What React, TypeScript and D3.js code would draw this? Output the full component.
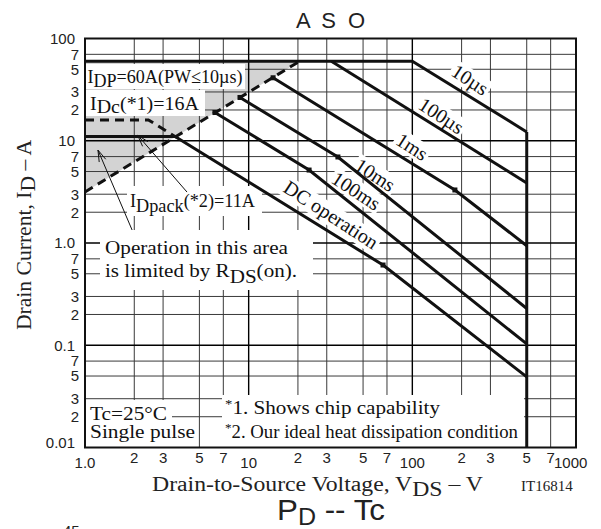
import React, { useRef, useEffect } from "react";
import * as d3 from "d3";

const width = 601;
const height = 529;
const plotLeft = 85;
const plotRight = 576;
const plotTop = 38.5;
const plotBottom = 447.5;

const serif = "'Liberation Serif', 'Times New Roman', serif";
const sans = "'Liberation Sans', Arial, sans-serif";

// axes
const xDecades = [1, 10, 100];
const yDecades = [0.01, 0.1, 1, 10];
const minorSteps = [2, 3, 5, 7];
const xMajors = [10, 100];
const yMajors = [0.1, 1, 10];
const xMajorTicks = [1, 10, 100];
const xMajorLabels = ["1.0", "10", "100"];
const yMajorTicks = [0.01, 0.1, 1, 10, 100];
const yMajorLabels = ["0.01", "0.1", "1.0", "10", "100"];

// limits
const idpCurrent = 60;   // A pulsed
const idcCurrent = 16;   // A chip
const idpackCurrent = 11; // A package
const vdssMax = 500;     // V

// R_DS(on) limit line
const rdsV = [1, 20.5];
const rdsA = [3.16, 60];

// SOA curves: start -> knee -> end at 500 V
const curveNames = ["10µs", "100µs", "1ms", "10ms", "100ms", "DC operation"];
const curveStartV = [100, 32, 14.1, 8.85, 6.22, 3.55];
const curveStartA = [60, 60, 41.3, 26.5, 18.9, 11];
const curveKneeV = [0, 0, 182, 35.1, 23.4, 66.2];
const curveKneeA = [0, 0, 3.3, 6.94, 5.17, 0.609];
const curveEndA = [12.2, 3.86, 0.94, 0.229, 0.103, 0.049];
const startMarked = [false, false, true, true, true, false];

// chip capability (DC, dashed)
const idcDashV = [1, 2.44, 3.55];
const idcDashA = [idcCurrent, idcCurrent, idpackCurrent];

// curve label centres (V, A)
const labelV = [225, 150, 99.5, 59.1, 45.3, 31.8];
const labelA = [39.3, 17.5, 8.7, 4.62, 3.22, 1.88];

export default function App() {
  const svgRef = useRef<SVGSVGElement>(null);

  useEffect(() => {
    if (!svgRef.current) return;
    const svg = d3.select(svgRef.current);
    svg.selectAll("*").remove();

    const x = d3.scaleLog().domain([1, 1000]).range([plotLeft, plotRight]);
    const y = d3.scaleLog().domain([0.01, 100]).range([plotBottom, plotTop]);
    const line = d3.line<[number, number]>().x(d => x(d[0])).y(d => y(d[1]));

    svg.append("rect").attr("width", width).attr("height", height).attr("fill", "#fff");

    // grey R_DS(on) limited region
    svg.append("path")
      .attr("d", line([[1, idpCurrent], [rdsV[1], rdsA[1]], [rdsV[0], rdsA[0]]]) + "Z")
      .attr("fill", "#d3d3d3");

    // grid
    const grid = svg.append("g");
    const xMinor = xDecades.flatMap(d => minorSteps.map(m => d * m));
    const yMinor = yDecades.flatMap(d => minorSteps.map(m => d * m));
    grid.selectAll(".vx").data(xMinor).join("line")
      .attr("x1", d => x(d)).attr("x2", d => x(d))
      .attr("y1", plotTop).attr("y2", plotBottom)
      .attr("stroke", "#3a3a3a").attr("stroke-width", 1);
    grid.selectAll(".hy").data(yMinor).join("line")
      .attr("y1", d => y(d)).attr("y2", d => y(d))
      .attr("x1", plotLeft).attr("x2", plotRight)
      .attr("stroke", "#3a3a3a").attr("stroke-width", 1);
    grid.selectAll(".vX").data(xMajors).join("line")
      .attr("x1", d => x(d)).attr("x2", d => x(d))
      .attr("y1", plotTop).attr("y2", plotBottom)
      .attr("stroke", "#000").attr("stroke-width", 1.4);
    grid.selectAll(".hY").data(yMajors).join("line")
      .attr("y1", d => y(d)).attr("y2", d => y(d))
      .attr("x1", plotLeft).attr("x2", plotRight)
      .attr("stroke", "#000").attr("stroke-width", 1.4);

    // white boxes behind the notes
    const bgLayer = svg.append("g");
    const maskBoxes = [
      [85, 64, 160, 25],
      [85, 90, 120, 26],
      [127, 186, 135, 30],
      [100, 230, 213, 60],
      [85, 400, 87, 47],
      [85, 422, 113, 25],
      [222, 395, 302, 52],
    ];
    bgLayer.selectAll("rect").data(maskBoxes).join("rect")
      .attr("x", d => d[0]).attr("y", d => d[1])
      .attr("width", d => d[2]).attr("height", d => d[3])
      .attr("fill", "#fff");

    const curveLayer = svg.append("g").attr("fill", "none").attr("stroke", "#111")
      .attr("stroke-width", 3).attr("stroke-linejoin", "miter");
    const textLayer = svg.append("g").attr("fill", "#111");

    // curve labels with white backing
    const angle = 33;
    curveNames.forEach((name, i) => {
      const tr = `translate(${x(labelV[i])},${y(labelA[i])}) rotate(${angle})`;
      const t = textLayer.append("text")
        .attr("transform", tr)
        .attr("text-anchor", "middle")
        .attr("dy", "0.33em")
        .attr("font-family", serif)
        .attr("font-size", 20)
        .text(name);
      const bb = (t.node() as SVGTextElement).getBBox();
      bgLayer.append("rect")
        .attr("transform", tr)
        .attr("x", bb.x - 2).attr("y", bb.y + 1)
        .attr("width", bb.width + 4).attr("height", bb.height - 2)
        .attr("fill", "#fff");
    });

    // I_DP line
    curveLayer.append("path").attr("d", line([[1, idpCurrent], [curveStartV[0], idpCurrent]]));
    // package limit
    curveLayer.append("path").attr("d", line([[1, idpackCurrent], [curveStartV[5], idpackCurrent]]));
    // SOA curves
    curveNames.forEach((_, i) => {
      const pts: [number, number][] = [[curveStartV[i], curveStartA[i]]];
      if (curveKneeV[i]) pts.push([curveKneeV[i], curveKneeA[i]]);
      pts.push([vdssMax, curveEndA[i]]);
      curveLayer.append("path").attr("d", line(pts));
    });
    // V_DSS
    curveLayer.append("path").attr("d", line([[vdssMax, curveEndA[0]], [vdssMax, 0.01]]));

    // dashed limits
    curveLayer.append("path")
      .attr("d", line([[rdsV[0], rdsA[0]], [rdsV[1], rdsA[1]]]))
      .attr("stroke-dasharray", "9,6");
    curveLayer.append("path")
      .attr("d", line(idcDashV.map((v, i) => [v, idcDashA[i]] as [number, number])))
      .attr("stroke-dasharray", "9,6");

    // markers
    const marks: [number, number][] = [];
    curveNames.forEach((_, i) => {
      if (startMarked[i]) marks.push([curveStartV[i], curveStartA[i]]);
      if (curveKneeV[i]) marks.push([curveKneeV[i], curveKneeA[i]]);
    });
    svg.append("g").selectAll("rect").data(marks).join("rect")
      .attr("x", d => x(d[0]) - 2.5).attr("y", d => y(d[1]) - 2.5)
      .attr("width", 5).attr("height", 5).attr("fill", "#111");

    // arrows
    const arrows = [
      [[1.94, 1.34], [1.2, 8.1]],
      [[4.2, 3.15], [2.1, 11.3]],
    ];
    const arrowG = svg.append("g").attr("stroke", "#111").attr("stroke-width", 1).attr("fill", "none");
    arrows.forEach(([a, b]) => {
      const x1 = x(a[0]), y1 = y(a[1]), x2 = x(b[0]), y2 = y(b[1]);
      const th = Math.atan2(y2 - y1, x2 - x1);
      arrowG.append("line").attr("x1", x1).attr("y1", y1).attr("x2", x2).attr("y2", y2);
      [-0.3, 0.3].forEach(o => {
        arrowG.append("line").attr("x1", x2).attr("y1", y2)
          .attr("x2", x2 - 12 * Math.cos(th + o)).attr("y2", y2 - 12 * Math.sin(th + o));
      });
    });

    // rich text helper
    const rich = (px: number, py: number, parts: [string, number, number?][], size: number, len?: number, family = serif) => {
      const t = textLayer.append("text").attr("x", px).attr("y", py)
        .attr("font-family", family).attr("font-size", size);
      let cur = 0;
      parts.forEach(([s, off, sc]) => {
        const ts = t.append("tspan").attr("dy", off - cur).text(s);
        if (sc) ts.attr("font-size", size * sc);
        cur = off;
      });
      if (len) t.attr("textLength", len).attr("lengthAdjust", "spacingAndGlyphs");
      return t;
    };

    rich(87.5, 83, [["I", 0], ["DP", 4], ["=60A(PW≤10µs)", 0]], 19, 155);
    rich(90, 110, [["I", 0], ["Dc", 3], ["(*1)=16A", 0]], 19, 109);
    rich(130, 207, [["I", 0], ["Dpack", 5], ["(*2)=11A", 0]], 19, 125);
    rich(105, 254, [["Operation in this area", 0]], 19, 183);
    rich(105, 277, [["is limited by R", 0], ["DS", 6], ["(on).", 0]], 19, 192);
    rich(90, 420, [["Tc=25°C", 0]], 19, 77);
    rich(90, 438, [["Single pulse", 0]], 19, 105);
    rich(225, 414, [["*", -6, 0.7], ["1. Shows chip capability", 0]], 19, 215);
    rich(225, 438, [["*", -6, 0.7], ["2. Our ideal heat dissipation condition", 0]], 19, 293);

    // plot border
    svg.append("rect")
      .attr("x", plotLeft).attr("y", plotTop)
      .attr("width", plotRight - plotLeft).attr("height", plotBottom - plotTop)
      .attr("fill", "none").attr("stroke", "#111").attr("stroke-width", 2);

    // tick labels
    const tick = svg.append("g").attr("font-family", sans).attr("font-size", 15).attr("fill", "#222");
    tick.selectAll(".ym").data(yMajorTicks).join("text")
      .attr("x", 75).attr("y", d => y(d)).attr("dy", (d) => d === 0.01 ? "0.05em" : "0.36em")
      .attr("text-anchor", "end").text((_, i) => yMajorLabels[i]);
    tick.selectAll(".yn").data(yMinor).join("text")
      .attr("x", 79).attr("y", d => y(d)).attr("dy", "0.36em")
      .attr("text-anchor", "end").text(d => String(Math.round(d / Math.pow(10, Math.floor(Math.log10(d) + 1e-9)))));
    tick.selectAll(".xm").data(xMajorTicks).join("text")
      .attr("x", d => x(d)).attr("y", 468)
      .attr("text-anchor", "middle").text((_, i) => xMajorLabels[i]);
    tick.append("text").attr("x", x(1000) - 22).attr("y", 468).text("1000");
    tick.selectAll(".xn").data(xMinor).join("text")
      .attr("x", d => x(d)).attr("y", 463)
      .attr("text-anchor", "middle").text(d => String(Math.round(d / Math.pow(10, Math.floor(Math.log10(d) + 1e-9)))));

    // titles
    svg.append("text").attr("x", (plotLeft + plotRight) / 2).attr("y", 28)
      .attr("text-anchor", "middle").attr("font-family", sans).attr("font-size", 22)
      .attr("textLength", 69).attr("lengthAdjust", "spacing").attr("fill", "#222")
      .text("A S O");

    const xl = svg.append("text").attr("x", 152).attr("y", 491)
      .attr("font-family", serif).attr("font-size", 20).attr("fill", "#222")
      .attr("textLength", 331).attr("lengthAdjust", "spacingAndGlyphs");
    xl.append("tspan").text("Drain-to-Source Voltage, V");
    xl.append("tspan").attr("dy", 5).text("DS");
    xl.append("tspan").attr("dy", -5).text("  –  V");

    const yl = svg.append("text").attr("transform", "translate(31,235) rotate(-90)")
      .attr("text-anchor", "middle")
      .attr("font-family", serif).attr("font-size", 22).attr("fill", "#222")
      .attr("textLength", 190).attr("lengthAdjust", "spacingAndGlyphs");
    yl.append("tspan").text("Drain Current, I");
    yl.append("tspan").attr("dy", 4).text("D");
    yl.append("tspan").attr("dy", -4).text("  –  A");

    svg.append("text").attr("x", 521).attr("y", 491)
      .attr("font-family", serif).attr("font-size", 15).attr("fill", "#222").text("IT16814");

    const pd = svg.append("text").attr("x", 277).attr("y", 520)
      .attr("font-family", sans).attr("font-size", 30).attr("fill", "#222")
      .attr("textLength", 108).attr("lengthAdjust", "spacingAndGlyphs");
    pd.append("tspan").text("P");
    pd.append("tspan").attr("dy", 5).attr("font-size", 24).text("D");
    pd.append("tspan").attr("dy", -5).text("  --  Tc");

    svg.append("text").attr("x", 63).attr("y", 536)
      .attr("font-family", sans).attr("font-size", 15).attr("fill", "#222").text("45");
  }, []);

  return (
    <svg ref={svgRef} width={width} height={height}
      style={{ position: "absolute", left: 0, top: 0, background: "#fff" }} />
  );
}
